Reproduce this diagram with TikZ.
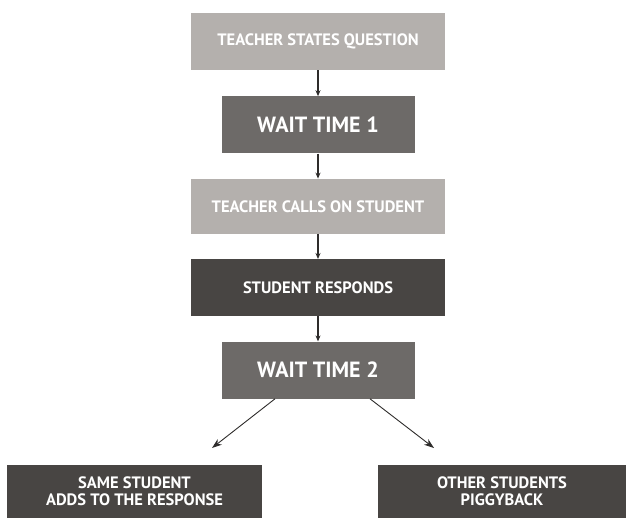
\documentclass[tikz,border=0pt]{standalone}
\usepackage{fontspec}
\setmainfont{PT Sans}
\usetikzlibrary{positioning,arrows.meta}

\definecolor{lightbox}{HTML}{B4B0AD}
\definecolor{midbox}{HTML}{6D6A68}
\definecolor{darkbox}{HTML}{484543}
\definecolor{arrowgray}{HTML}{2E2C2B}

\tikzset{
  stepbox/.style={rectangle, text=white, font=\bfseries\fontsize{16.5}{17}\selectfont,
    inner sep=0pt, align=center, minimum height=57pt},
  widebox/.style={stepbox, minimum width=254pt},
  narrowbox/.style={stepbox, minimum width=193pt, font=\bfseries\fontsize{22}{24}\selectfont},
  flow/.style={-{Stealth[length=6pt,width=5pt]}, line width=1.1pt, draw=arrowgray},
  branch/.style={-{Stealth[length=10pt,width=7pt]}, line width=0.9pt, draw=arrowgray}
}

\begin{document}
\begin{tikzpicture}
  \useasboundingbox (0pt,0pt) rectangle (626pt,-518pt);

  \node[widebox, fill=lightbox] (question) at (318pt,-41.5pt) {TEACHER STATES QUESTION};
  \node[narrowbox, fill=midbox, below=26pt of question] (waitone) {WAIT TIME 1};
  \node[widebox, fill=lightbox, minimum height=55pt, below=25pt of waitone] (calls) {TEACHER CALLS ON STUDENT};
  \node[widebox, fill=darkbox, below=25pt of calls] (responds) {STUDENT RESPONDS};
  \node[narrowbox, fill=midbox, below=25pt of responds] (waittwo) {WAIT TIME 2};

  % the two outcomes
  \node[stepbox, fill=darkbox, minimum width=255pt, minimum height=53pt] (same) at (134.5pt,-491.5pt)
    {SAME STUDENT\\ADDS TO THE RESPONSE};
  \node[stepbox, fill=darkbox, minimum width=248pt, minimum height=53pt] (others) at (502pt,-491.5pt)
    {OTHER STUDENTS\\PIGGYBACK};

  \draw[flow] (question) -- (waitone);
  \draw[flow] (waitone) -- (calls);
  \draw[flow] (calls) -- (responds);
  \draw[flow] (responds) -- (waittwo);

  \coordinate (leftend) at (212pt,-448pt);
  \coordinate (rightend) at (434pt,-448pt);
  \draw[branch] (waittwo.south -| 275pt,0) -- (leftend);
  \draw[branch] (waittwo.south -| 370pt,0) -- (rightend);
\end{tikzpicture}
\end{document}
